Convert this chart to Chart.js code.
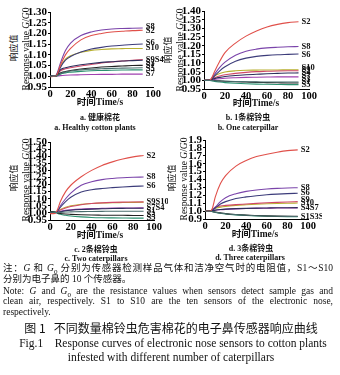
<!DOCTYPE html>
<html>
<head>
<meta charset="utf-8">
<script src="https://cdn.jsdelivr.net/npm/chart.js@4.4.0/dist/chart.umd.min.js"></script>
<style>
  body { margin: 0; background: #fff; }
  #page { position: relative; width: 340px; height: 375px; overflow: hidden;
          font-family: 'Liberation Serif', 'Noto Sans CJK SC', serif; color: #111; }
  canvas { position: absolute; }
  .c { position: absolute; transform: translate(-50%, -50%); white-space: nowrap; }
  .r { position: absolute; transform: translate(-50%, -50%) rotate(-90deg); white-space: nowrap; }
  .yt { font-size: 9.5px; }
  .yc { font-size: 9px; font-family: 'Noto Sans CJK SC'; }
  .xt { font-size: 9.5px; font-weight: bold; }
  .cap { font-size: 8px; font-weight: bold; }
  .note { position: absolute; left: 3px; width: 330px; font-size: 9.5px; line-height: 11px; }
  .just { text-align: justify; text-align-last: justify; }
</style>
</head>
<body>
<div id="page">
  <canvas id="chartA" width="147" height="99" style="left:20px;top:4px"></canvas>
  <canvas id="chartB" width="149" height="102" style="left:174px;top:3px"></canvas>
  <canvas id="chartC" width="148" height="102" style="left:20px;top:134px"></canvas>
  <canvas id="chartD" width="147" height="103" style="left:175px;top:132px"></canvas>

  <!-- y titles -->
  <div class="r yc" style="left:13px;top:48px">响应值</div>
  <div class="r yt" style="left:25.5px;top:49px">Response value <i>G</i>/<i>G</i>0</div>
  <div class="r yc" style="left:167px;top:50px">响应值</div>
  <div class="r yt" style="left:179.5px;top:50px">Response value <i>G</i>/<i>G</i>0</div>
  <div class="r yc" style="left:13px;top:178px">响应值</div>
  <div class="r yt" style="left:25.5px;top:180px">Response value <i>G</i>/<i>G</i>0</div>
  <div class="r yc" style="left:171px;top:178px">响应值</div>
  <div class="r yt" style="left:183.5px;top:179px">Response value <i>G</i>/<i>G</i>0</div>

  <!-- x titles and captions -->
  <div class="c xt" style="left:100px;top:101px">时间Time/s</div>
  <div class="c cap" style="left:100px;top:115.5px">a. 健康棉花</div>
  <div class="c cap" style="left:95px;top:126.5px">a. Healthy cotton plants</div>

  <div class="c xt" style="left:256px;top:102px">时间Time/s</div>
  <div class="c cap" style="left:248px;top:116px">b. 1条棉铃虫</div>
  <div class="c cap" style="left:248px;top:127px">b. One caterpillar</div>

  <div class="c xt" style="left:100px;top:233.5px">时间Time/s</div>
  <div class="c cap" style="left:96px;top:247.5px">c. 2条棉铃虫</div>
  <div class="c cap" style="left:96px;top:257.5px">c. Two caterpillars</div>

  <div class="c xt" style="left:255px;top:232.5px">时间Time/s</div>
  <div class="c cap" style="left:251px;top:246.5px">d. 3条棉铃虫</div>
  <div class="c cap" style="left:250px;top:256.5px">d. Three caterpillars</div>

  <!-- note -->
  <div class="note just" style="top:263px">注：<i>G</i> 和 <i>G</i><sub style="font-size:7px">0</sub> 分别为传感器检测样品气体和洁净空气时的电阻值，S1～S10</div>
  <div class="note" style="top:274px">分别为电子鼻的 10 个传感器。</div>
  <div class="note just" style="top:285.5px">Note: <i>G</i> and <i>G</i><sub style="font-size:7px">0</sub> are the resistance values when sensors detect sample gas and</div>
  <div class="note just" style="top:296px">clean air, respectively. S1 to S10 are the ten sensors of the electronic nose,</div>
  <div class="note" style="top:306.5px">respectively.</div>

  <div class="c" style="left:171px;top:327px;font-size:12px;font-family:'Noto Sans CJK SC'">图 1&nbsp;&nbsp;&nbsp;不同数量棉铃虫危害棉花的电子鼻传感器响应曲线</div>
  <div class="c" style="left:173px;top:343px;font-size:11.5px">Fig.1&nbsp;&nbsp;&nbsp;&nbsp;Response curves of electronic nose sensors to cotton plants</div>
  <div class="c" style="left:171px;top:356.5px;font-size:11.5px">infested with different number of caterpillars</div>
</div>

<script>
// sampling times (s)
const times = [0, 5, 7, 10, 15, 20, 30, 40, 50, 60, 70, 80, 90];
const xTicks = [0, 20, 40, 60, 80, 100];
const sensors = ['S1', 'S2', 'S3', 'S4', 'S5', 'S6', 'S7', 'S8', 'S9', 'S10'];
const sensorColors = ['#4a6e6e', '#e0504a', '#222222', '#2e2e5c', '#2a9070',
                      '#3c3c7a', '#a040b0', '#7a44aa', '#d04868', '#b8b030'];

// a. healthy cotton, rows S1..S10
const healthy = [
  [1.000, 1.001, 1.003, 1.012, 1.020, 1.025, 1.030, 1.033, 1.035, 1.037, 1.038, 1.039, 1.040],
  [0.998, 1.000, 1.010, 1.050, 1.100, 1.130, 1.170, 1.190, 1.200, 1.207, 1.210, 1.213, 1.215],
  [1.001, 1.000, 1.005, 1.015, 1.022, 1.027, 1.034, 1.039, 1.043, 1.046, 1.048, 1.050, 1.051],
  [0.999, 1.000, 1.008, 1.030, 1.040, 1.046, 1.054, 1.060, 1.065, 1.068, 1.071, 1.073, 1.075],
  [1.000, 0.999, 1.002, 1.010, 1.016, 1.019, 1.023, 1.026, 1.027, 1.028, 1.029, 1.030, 1.030],
  [1.000, 1.000, 1.010, 1.040, 1.075, 1.092, 1.113, 1.127, 1.135, 1.141, 1.145, 1.148, 1.151],
  [1.000, 1.000, 1.001, 1.003, 1.005, 1.006, 1.007, 1.008, 1.009, 1.009, 1.010, 1.010, 1.010],
  [1.001, 1.000, 1.015, 1.060, 1.120, 1.155, 1.190, 1.207, 1.216, 1.221, 1.223, 1.224, 1.225],
  [0.999, 1.000, 1.006, 1.025, 1.035, 1.040, 1.048, 1.055, 1.062, 1.067, 1.071, 1.075, 1.078],
  [1.000, 1.001, 1.012, 1.045, 1.080, 1.096, 1.112, 1.121, 1.125, 1.128, 1.129, 1.130, 1.130]
];
// b. one caterpillar
const oneCat = [
  [1.000, 1.000, 0.999, 0.998, 0.996, 0.995, 0.993, 0.992, 0.991, 0.990, 0.990, 0.990, 0.990],
  [1.000, 1.000, 1.010, 1.050, 1.110, 1.160, 1.215, 1.255, 1.285, 1.308, 1.323, 1.333, 1.338],
  [1.000, 1.001, 1.000, 0.999, 0.997, 0.995, 0.992, 0.990, 0.988, 0.987, 0.986, 0.985, 0.985],
  [1.000, 1.000, 1.004, 1.010, 1.017, 1.022, 1.028, 1.032, 1.035, 1.038, 1.040, 1.042, 1.043],
  [1.000, 0.999, 0.998, 0.994, 0.990, 0.987, 0.983, 0.980, 0.978, 0.977, 0.976, 0.975, 0.975],
  [1.000, 1.000, 1.005, 1.025, 1.055, 1.078, 1.110, 1.128, 1.138, 1.144, 1.148, 1.150, 1.152],
  [1.000, 1.000, 1.002, 1.005, 1.009, 1.012, 1.015, 1.017, 1.018, 1.019, 1.020, 1.020, 1.020],
  [1.000, 1.000, 1.010, 1.035, 1.075, 1.105, 1.145, 1.168, 1.180, 1.187, 1.191, 1.194, 1.195],
  [1.000, 1.000, 1.005, 1.015, 1.025, 1.032, 1.040, 1.046, 1.050, 1.052, 1.054, 1.055, 1.055],
  [1.000, 1.000, 1.008, 1.025, 1.040, 1.048, 1.055, 1.058, 1.059, 1.060, 1.060, 1.061, 1.061]
];
// c. two caterpillars
const twoCat = [
  [1.005, 1.003, 1.002, 1.004, 1.006, 1.007, 1.009, 1.010, 1.011, 1.012, 1.012, 1.012, 1.012],
  [0.995, 0.997, 1.020, 1.080, 1.150, 1.195, 1.255, 1.300, 1.335, 1.360, 1.380, 1.395, 1.405],
  [1.008, 1.005, 1.000, 0.996, 0.992, 0.990, 0.987, 0.985, 0.984, 0.983, 0.983, 0.982, 0.982],
  [1.006, 1.004, 1.004, 1.008, 1.015, 1.019, 1.024, 1.027, 1.029, 1.031, 1.032, 1.033, 1.033],
  [1.010, 1.006, 0.998, 0.990, 0.983, 0.978, 0.972, 0.968, 0.966, 0.965, 0.964, 0.963, 0.963],
  [1.004, 1.003, 1.010, 1.040, 1.080, 1.110, 1.147, 1.163, 1.172, 1.178, 1.183, 1.187, 1.190],
  [1.003, 1.002, 1.005, 1.010, 1.018, 1.022, 1.027, 1.030, 1.032, 1.034, 1.035, 1.035, 1.036],
  [1.002, 1.002, 1.012, 1.050, 1.100, 1.140, 1.195, 1.220, 1.235, 1.243, 1.248, 1.251, 1.253],
  [1.004, 1.003, 1.008, 1.020, 1.035, 1.045, 1.058, 1.066, 1.071, 1.074, 1.076, 1.077, 1.078],
  [1.006, 1.004, 1.010, 1.025, 1.040, 1.050, 1.060, 1.066, 1.070, 1.072, 1.073, 1.074, 1.075]
];
// d. three caterpillars
const threeCat = [
  [1.000, 0.999, 0.995, 0.985, 0.975, 0.966, 0.955, 0.948, 0.942, 0.938, 0.935, 0.933, 0.932],
  [1.000, 1.000, 1.030, 1.180, 1.350, 1.450, 1.570, 1.640, 1.690, 1.720, 1.745, 1.765, 1.775],
  [1.002, 1.000, 0.996, 0.987, 0.977, 0.968, 0.957, 0.949, 0.944, 0.940, 0.937, 0.935, 0.934],
  [1.000, 1.000, 1.004, 1.012, 1.020, 1.025, 1.031, 1.035, 1.038, 1.040, 1.042, 1.043, 1.044],
  [1.001, 0.999, 0.994, 0.983, 0.972, 0.963, 0.952, 0.945, 0.939, 0.935, 0.932, 0.930, 0.929],
  [1.000, 1.000, 1.010, 1.040, 1.090, 1.120, 1.160, 1.180, 1.195, 1.207, 1.215, 1.221, 1.226],
  [1.000, 1.000, 1.003, 1.010, 1.017, 1.022, 1.028, 1.032, 1.035, 1.037, 1.039, 1.040, 1.041],
  [1.000, 1.000, 1.010, 1.050, 1.120, 1.170, 1.220, 1.250, 1.268, 1.280, 1.288, 1.293, 1.296],
  [1.000, 1.001, 1.015, 1.050, 1.065, 1.072, 1.082, 1.090, 1.098, 1.105, 1.111, 1.116, 1.120],
  [1.000, 1.000, 1.010, 1.035, 1.050, 1.060, 1.072, 1.080, 1.087, 1.093, 1.097, 1.100, 1.102]
];

// y ticks per panel
const yTicksA = [0.95, 1.00, 1.05, 1.10, 1.15, 1.20, 1.25, 1.30];
const yTicksB = [0.95, 1.00, 1.05, 1.10, 1.15, 1.20, 1.25, 1.30, 1.35, 1.40];
const yTicksC = [0.95, 1.00, 1.05, 1.10, 1.15, 1.20, 1.25, 1.30, 1.35, 1.40, 1.45, 1.50];
const yTicksD = [0.9, 1.0, 1.1, 1.2, 1.3, 1.4, 1.5, 1.6, 1.7, 1.8, 1.9];

// end-of-curve sensor tags and the value they sit at
const tagsA = ['S8', 'S2', 'S6', 'S10', 'S9S4', 'S3', 'S1', 'S5', 'S7'];
const tagValsA = [1.232, 1.214, 1.155, 1.133, 1.078, 1.062, 1.049, 1.036, 1.013];
const tagsB = ['S2', 'S8', 'S6', 'S10', 'S9', 'S4', 'S7', 'S3', 'S1', 'S5'];
const tagValsB = [1.338, 1.195, 1.150, 1.075, 1.058, 1.041, 1.024, 1.007, 0.990, 0.972];
const tagsC = ['S2', 'S8', 'S6', 'S9S10', 'S7S4', 'S1', 'S3', 'S5'];
const tagValsC = [1.405, 1.253, 1.190, 1.078, 1.035, 1.014, 0.990, 0.966];
const tagsD = ['S2', 'S8', 'S6', 'S9', 'S10', 'S4S7', 'S1S3S5'];
const tagValsD = [1.78, 1.30, 1.23, 1.14, 1.10, 1.045, 0.93];

Chart.defaults.font.family = "'Liberation Serif', serif";
Chart.defaults.color = '#000';

let drawPanel = (id, rows, yTicks, dec, tagNames, tagVals) => {
  const datasets = rows.map((r, i) => ({
    label: sensors[i],
    data: r.map((v, j) => ({ x: times[j], y: v })),
    borderColor: sensorColors[i],
    borderWidth: 1.1,
    pointRadius: 0,
    cubicInterpolationMode: 'monotone',
    fill: false
  }));

  const tagPlugin = {
    id: 'tags',
    afterDatasetsDraw(chart) {
      const ctx = chart.ctx, xs = chart.scales.x, ys = chart.scales.y;
      ctx.save();
      ctx.font = "bold 8.5px 'Liberation Serif'";
      ctx.fillStyle = '#111';
      ctx.textBaseline = 'middle';
      tagNames.forEach((t, i) => {
        ctx.fillText(t, xs.getPixelForValue(times[times.length - 1]) + 3, ys.getPixelForValue(tagVals[i]));
      });
      ctx.restore();
    }
  };

  new Chart(document.getElementById(id), {
    type: 'line',
    data: { datasets },
    options: {
      responsive: false,
      animation: false,
      layout: { padding: { top: 8, right: 14, left: 0, bottom: 0 } },
      plugins: { legend: { display: false }, tooltip: { enabled: false } },
      scales: {
        x: {
          type: 'linear', min: 0, max: 100,
          afterBuildTicks: s => { s.ticks = xTicks.map(v => ({ value: v })); },
          afterFit: s => { s.height = 16; },
          grid: { drawOnChartArea: false, tickLength: 1, color: '#000' },
          border: { color: '#000', width: 1 },
          ticks: { padding: 0, autoSkip: false, maxRotation: 0, font: { size: 10.5, weight: 'bold' } }
        },
        y: {
          type: 'linear', min: yTicks[0], max: yTicks[yTicks.length - 1],
          afterBuildTicks: s => { s.ticks = yTicks.map(v => ({ value: v })); },
          afterFit: s => { s.width = 30; },
          grid: { drawOnChartArea: false, tickLength: 2, color: '#000' },
          border: { color: '#000', width: 1 },
          ticks: { padding: 1, autoSkip: false, font: { size: 11, weight: 'bold' }, callback: v => v.toFixed(dec) }
        }
      }
    },
    plugins: [tagPlugin]
  });
};

drawPanel('chartA', healthy, yTicksA, 2, tagsA, tagValsA);
drawPanel('chartB', oneCat, yTicksB, 2, tagsB, tagValsB);
drawPanel('chartC', twoCat, yTicksC, 2, tagsC, tagValsC);
drawPanel('chartD', threeCat, yTicksD, 1, tagsD, tagValsD);
</script>
</body>
</html>
